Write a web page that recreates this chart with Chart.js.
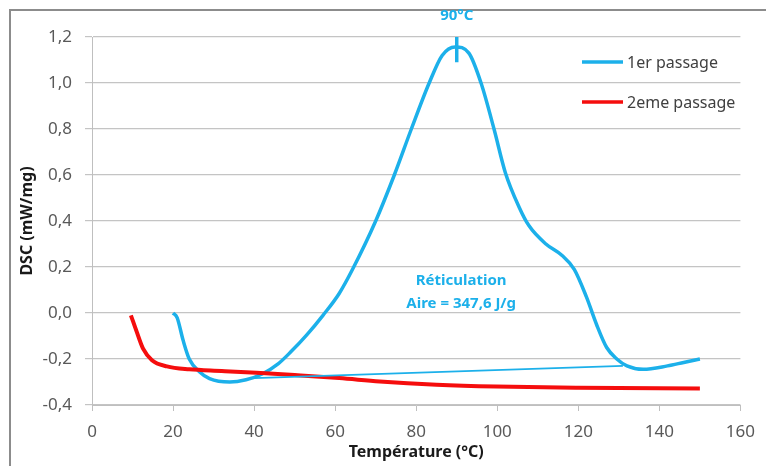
<!DOCTYPE html>
<html>
<head>
<meta charset="utf-8">
<script src="https://cdn.jsdelivr.net/npm/chart.js@4"></script>
<style>
  html, body { margin: 0; padding: 0; background: #fff; }
  #wrap { position: relative; width: 766px; height: 466px; }
  #frame { position: absolute; left: 9px; top: 9px; width: 800px; height: 500px; border: 2px solid #8c8c8c; }
  canvas { position: absolute; left: 0; top: 0; }
</style>
</head>
<body>
<div id="wrap">
  <div id="frame"></div>
  <canvas id="dscChart" width="766" height="466"></canvas>
</div>
<script>
// 1er passage
const tempPass1 = [20, 21, 22.5, 24, 26.5, 29, 34, 38, 42, 46, 49, 53, 57, 61, 64.3, 70, 74.6, 78.8, 83.2, 86.4, 89.6, 93, 96, 99.2, 102, 105.4, 107.8, 112, 116, 119, 122, 124.5, 127, 129.5, 132, 136, 142, 146, 150];
const dscPass1 = [0.0, -0.02, -0.12, -0.2, -0.255, -0.285, -0.3, -0.29, -0.265, -0.22, -0.17, -0.095, -0.01, 0.085, 0.19, 0.4, 0.6, 0.8, 1.0, 1.12, 1.157, 1.13, 1.0, 0.8, 0.61, 0.46, 0.38, 0.3, 0.25, 0.19, 0.07, -0.05, -0.15, -0.2, -0.23, -0.245, -0.23, -0.215, -0.2];

// 2eme passage
const tempPass2 = [9.6, 11, 12.6, 14.8, 18.5, 24, 32, 40.6, 50, 61, 71, 85, 99.7, 120, 150];
const dscPass2 = [-0.01, -0.08, -0.155, -0.205, -0.232, -0.245, -0.252, -0.26, -0.27, -0.283, -0.298, -0.312, -0.32, -0.325, -0.328];

// ligne de base pour l'aire
const tempBase = [40, 131];
const dscBase = [-0.283, -0.23];

// repère du pic
const tempPeak = [90, 90];
const dscPeak = [1.2, 1.09];

const seriesNames = ["1er passage", "2eme passage"];
const blue = "#1cb0ea";
const red = "#f50d0d";

const toPoints = (xs, ys) => xs.map((x, i) => ({ x: x, y: ys[i] }));
const comma = (v) => v.toFixed(1).replace(".", ",");

// légende + textes dans la zone du graphique
const extras = {
  id: "extras",
  afterDatasetsDraw(chart) {
    const { ctx, scales } = chart;
    const xs = scales.x, ys = scales.y;
    ctx.save();
    ctx.textBaseline = "middle";

    // légende
    const items = [[seriesNames[0], blue, 62], [seriesNames[1], red, 102]];
    items.forEach(([name, color, y]) => {
      ctx.strokeStyle = color;
      ctx.lineWidth = 3.5;
      ctx.beginPath();
      ctx.moveTo(582, y);
      ctx.lineTo(623, y);
      ctx.stroke();
      ctx.fillStyle = "#404040";
      ctx.font = "16px 'Noto Sans'";
      ctx.textAlign = "left";
      ctx.fillText(name, 627, y + 1);
    });

    // annotations
    ctx.fillStyle = blue;
    ctx.textAlign = "center";
    ctx.font = "bold 15px 'Noto Sans'";
    ctx.fillText("90°C", xs.getPixelForValue(90), 16);
    ctx.fillText("Réticulation", xs.getPixelForValue(91.1), ys.getPixelForValue(0.14));
    ctx.fillText("Aire = 347,6 J/g", xs.getPixelForValue(91.1), ys.getPixelForValue(0.04));
    ctx.restore();
  },
};

const ctx = document.getElementById("dscChart").getContext("2d");

const dscChart = new Chart(ctx, {
  type: "scatter",
  data: {
    datasets: [
      {
        label: "ligne de base",
        data: toPoints(tempBase, dscBase),
        showLine: true,
        borderColor: blue,
        borderWidth: 1.8,
        pointRadius: 0,
      },
      {
        label: seriesNames[1],
        data: toPoints(tempPass2, dscPass2),
        showLine: true,
        borderColor: red,
        borderWidth: 4,
        pointRadius: 0,
        cubicInterpolationMode: "monotone",
      },
      {
        label: seriesNames[0],
        data: toPoints(tempPass1, dscPass1),
        showLine: true,
        borderColor: blue,
        borderWidth: 3.5,
        pointRadius: 0,
        cubicInterpolationMode: "monotone",
      },
      {
        label: "pic",
        data: toPoints(tempPeak, dscPeak),
        showLine: true,
        borderColor: blue,
        borderWidth: 3.5,
        pointRadius: 0,
      },
    ],
  },
  options: {
    responsive: false,
    animation: false,
    layout: {
      padding: { left: 0, top: 37, right: 24, bottom: 0 },
    },
    plugins: {
      legend: { display: false },
      tooltip: { enabled: false },
    },
    scales: {
      x: {
        type: "linear",
        min: 0,
        max: 160,
        afterFit: (scale) => { scale.height = 61; },
        grid: {
          drawOnChartArea: false,
          drawTicks: true,
          tickLength: 6,
          color: "#bfbfbf",
        },
        border: { display: true, color: "#bfbfbf", width: 1 },
        ticks: {
          stepSize: 20,
          padding: 11,
          color: "#595959",
          font: { family: "'Noto Sans'", size: 17 },
        },
        title: {
          display: true,
          text: "Température (°C)",
          color: "#1a1a1a",
          font: { family: "'Noto Sans'", size: 16, weight: "bold" },
          padding: { top: 0, bottom: 4 },
        },
      },
      y: {
        min: -0.4,
        max: 1.2,
        afterFit: (scale) => { scale.width = 92; },
        grid: {
          color: "#c4c4c4",
          lineWidth: 1.2,
          drawTicks: true,
          tickLength: 7,
        },
        border: { display: true, color: "#bfbfbf", width: 1 },
        ticks: {
          stepSize: 0.2,
          padding: 13,
          color: "#595959",
          font: { family: "'Noto Sans'", size: 17 },
          callback: (value) => comma(value),
        },
        title: {
          display: true,
          text: "DSC (mW/mg)",
          color: "#1a1a1a",
          font: { family: "'Noto Sans'", size: 16, weight: "bold" },
          padding: { top: 18, bottom: 0 },
        },
      },
    },
  },
  plugins: [extras],
});
</script>
</body>
</html>
